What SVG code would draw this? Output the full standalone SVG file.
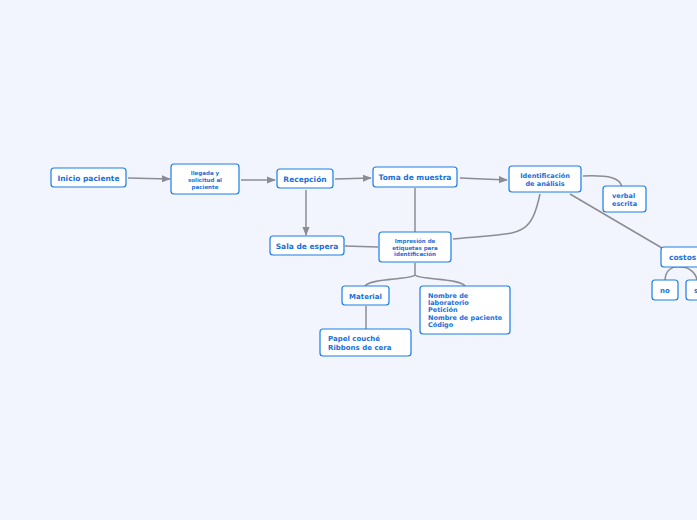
<svg xmlns="http://www.w3.org/2000/svg" width="697" height="520" viewBox="0 0 697 520">
<style>
.n{fill:#fff;stroke:#1a7ee6;stroke-width:1.2}
.t{font-family:Verdana,"DejaVu Sans",sans-serif;font-weight:bold;fill:#1a6fd8}
.c{fill:none;stroke:#8c8c94;stroke-width:1.5}
</style>
<defs><marker id="a" viewBox="0 0 10 10" refX="9" refY="5" markerWidth="6" markerHeight="6" orient="auto"><path d="M0,1 L10,5 L0,9z" fill="#8c8c94"/></marker></defs>
<rect width="697" height="520" fill="#f2f5fe"/>
<g id="connectors">
<path class="c" d="M128,178 L170,179" marker-end="url(#a)"/>
<path class="c" d="M241,180 L275,180" marker-end="url(#a)"/>
<path class="c" d="M335,179 L371,178" marker-end="url(#a)"/>
<path class="c" d="M460,178 L507,180" marker-end="url(#a)"/>
<path class="c" d="M306,190 L306,235" marker-end="url(#a)"/>
<path class="c" d="M345,246 L378,247"/>
<path class="c" d="M415,188 L415,232"/>
<path class="c" d="M453,239 C520,232 530,240 540,194"/>
<path class="c" d="M583,176 C610,175 620,178 622,187"/>
<path class="c" d="M570,194 L662,248"/>
<path class="c" d="M415,263 L415,275 C410,280 370,278 365,286"/>
<path class="c" d="M415,275 C420,280 460,278 465,286"/>
<path class="c" d="M366,306 L366,329"/>
<path class="c" d="M665,281 C665,270 672,266 680,267 C690,266 697,275 697,281"/>
</g>
<g id="n1"><rect class="n" x="51" y="168" width="75" height="19" rx="3"/><text class="t" x="88.5" y="180.5" font-size="7.5" text-anchor="middle">Inicio paciente</text></g>
<g id="n2"><rect class="n" x="171" y="164" width="68" height="30" rx="3"/><text class="t" font-size="5.5" text-anchor="middle"><tspan x="205" y="175">llegada y</tspan><tspan x="205" y="182">solicitud al</tspan><tspan x="205" y="188.5">paciente</tspan></text></g>
<g id="n3"><rect class="n" x="277" y="169" width="56" height="19" rx="3"/><text class="t" x="305" y="181.5" font-size="7.5" text-anchor="middle">Recepción</text></g>
<g id="n4"><rect class="n" x="373" y="167" width="84" height="20" rx="3"/><text class="t" x="415" y="180" font-size="7.5" text-anchor="middle">Toma de muestra</text></g>
<g id="n5"><rect class="n" x="509" y="166" width="72" height="26" rx="3"/><text class="t" font-size="6.5" text-anchor="middle"><tspan x="545" y="177.5">Identificación</tspan><tspan x="545" y="186">de análisis</tspan></text></g>
<g id="n6"><rect class="n" x="603" y="186" width="43" height="26" rx="3"/><text class="t" font-size="6.5"><tspan x="612" y="197.5">verbal</tspan><tspan x="612" y="205.5">escrita</tspan></text></g>
<g id="n7"><rect class="n" x="270" y="236" width="74" height="19" rx="3"/><text class="t" x="307" y="248.5" font-size="7.5" text-anchor="middle">Sala de espera</text></g>
<g id="n8"><rect class="n" x="379" y="232" width="72" height="30" rx="3"/><text class="t" font-size="5.5" text-anchor="middle"><tspan x="415" y="243">Impresión de</tspan><tspan x="415" y="249.5">etiquetas para</tspan><tspan x="415" y="256">identificación</tspan></text></g>
<g id="n9"><rect class="n" x="661" y="247" width="40" height="20" rx="3"/><text class="t" x="669" y="260" font-size="7.5">costos</text></g>
<g id="n10"><rect class="n" x="652" y="280" width="26" height="20" rx="3"/><text class="t" x="665" y="293" font-size="7" text-anchor="middle">no</text></g>
<g id="n11"><rect class="n" x="686" y="280" width="20" height="20" rx="3"/><text class="t" x="694" y="293" font-size="7">si</text></g>
<g id="n12"><rect class="n" x="342" y="286" width="47" height="19" rx="3"/><text class="t" x="365.5" y="298.5" font-size="7" text-anchor="middle">Material</text></g>
<g id="n13"><rect class="n" x="420" y="286" width="90" height="48" rx="3"/><text class="t" font-size="6.5"><tspan x="428" y="297.5">Nombre de</tspan><tspan x="428" y="304.5">laboratorio</tspan><tspan x="428" y="312">Petición</tspan><tspan x="428" y="319.5">Nombre de paciente</tspan><tspan x="428" y="327">Código</tspan></text></g>
<g id="n14"><rect class="n" x="320" y="329" width="91" height="27" rx="3"/><text class="t" font-size="7"><tspan x="328" y="341">Papel couché</tspan><tspan x="328" y="350">Ribbons de cera</tspan></text></g>
</svg>
